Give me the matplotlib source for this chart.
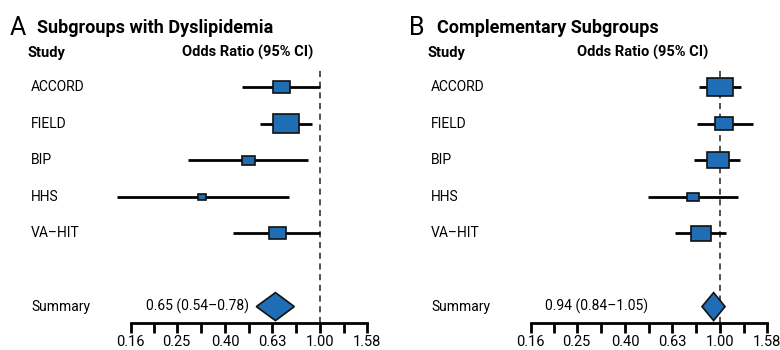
import matplotlib
matplotlib.use("Agg")
import matplotlib.pyplot as plt
import numpy as np
from matplotlib.patches import Rectangle, Polygon

plt.rcParams['font.family'] = ['Roboto', 'DejaVu Sans']

studies = ["ACCORD", "FIELD", "BIP", "HHS", "VA\u2013HIT"]

# panel A: subgroups with dyslipidemia
or_a = [0.69, 0.72, 0.50, 0.32, 0.66]
lo_a = [0.47, 0.56, 0.28, 0.14, 0.43]
hi_a = [1.00, 0.93, 0.89, 0.74, 1.00]
wt_a = [0.65, 1.00, 0.49, 0.32, 0.65]
sum_a = (0.65, 0.54, 0.78)

# panel B: complementary subgroups
or_b = [1.00, 1.04, 0.98, 0.77, 0.83]
lo_b = [0.82, 0.80, 0.78, 0.50, 0.65]
hi_b = [1.22, 1.37, 1.21, 1.19, 1.06]
wt_b = [1.00, 0.69, 0.84, 0.43, 0.77]
sum_b = (0.94, 0.84, 1.05)

tick_vals = [0.16, 0.25, 0.40, 0.63, 1.00, 1.58]

blue = "#1f6db5"
px_dec = 238.0   # pixels per decade
px_row = 36.6    # pixels per row


def forest(ax, letter, title, est, lo, hi, wt, summ, xlim, x_name, x_head, x_ci, x_sum):
    ax.set_xscale('log')
    ax.set_xlim(*xlim)
    ax.set_ylim(-2.186, 7.377)
    yt = ax.get_yaxis_transform()
    rows = np.arange(len(studies))[::-1] + 1

    ax.plot([1, 1], [-1.456, 5.46], ls=(0, (4, 3)), color='#222222', lw=1.1, zorder=1)

    for r, name, e, l, h, w in zip(rows, studies, est, lo, hi, wt):
        ax.plot([l, h], [r, r], color='black', lw=2, zorder=2, solid_capstyle='butt')
        bw = 26 * w
        bh = 0.72 * bw
        hw = bw / 2 / px_dec
        x0 = e * 10 ** (-hw)
        x1 = e * 10 ** hw
        ax.add_patch(Rectangle((x0, r - bh / 2 / px_row), x1 - x0, bh / px_row,
                               facecolor=blue, edgecolor='#111111', lw=1.2, zorder=3))
        ax.text(x_name, r, name, transform=yt, fontsize=10, va='center', ha='left')

    e, l, h = summ
    ys = -1
    dh = 14 / px_row
    ax.add_patch(Polygon([(l, ys), (e, ys + dh), (h, ys), (e, ys - dh)],
                         closed=True, facecolor=blue, edgecolor='#111111', lw=1.2, zorder=3))
    ax.text(x_name, ys, "Summary", transform=yt, fontsize=10, va='center', ha='left')
    ax.text(x_sum, ys, f"{e:.2f} ({l:.2f}\u2013{h:.2f})", transform=yt, fontsize=10,
            va='center', ha='right')

    ax.text(x_head, 5.93, "Study", transform=yt, fontsize=10.5,
            fontweight='bold', va='center', ha='left')
    ax.text(x_ci, 5.93, "Odds Ratio (95% CI)", transform=yt,
            fontsize=10.5, fontweight='bold', va='center', ha='center')
    ax.text(x_head - 0.047, 6.62, letter, transform=yt, fontsize=18,
            va='center', ha='left')
    ax.text(x_head + 0.024, 6.62, title, transform=yt, fontsize=13,
            fontweight='bold', va='center', ha='left')

    # axis
    for s in ['top', 'right', 'left']:
        ax.spines[s].set_visible(False)
    ax.spines['bottom'].set_position(('data', -1.456))
    ax.spines['bottom'].set_bounds(tick_vals[0], tick_vals[-1])
    ax.spines['bottom'].set_linewidth(2)
    ax.set_yticks([])
    ax.set_xticks(tick_vals)
    ax.set_xticklabels([f"{t:.2f}" for t in tick_vals], fontsize=10.5)
    minor = [np.sqrt(a * b) for a, b in zip(tick_vals[:-1], tick_vals[1:])]
    ax.set_xticks(minor, minor=True)
    ax.set_xticklabels([], minor=True)
    ax.tick_params(axis='x', which='both', length=7, width=2, direction='out', pad=1.5)


fig = plt.figure(figsize=(7.8, 3.5), dpi=100)
ax1 = fig.add_axes([0, 0, 0.5, 1])
ax2 = fig.add_axes([0.5, 0, 0.5, 1])

forest(ax1, "A", "Subgroups with Dyslipidemia", or_a, lo_a, hi_a, wt_a, sum_a,
       (10 ** (-320 / px_dec), 10 ** (70 / px_dec)), 31 / 390, 28 / 390, 248 / 390,
       249.5 / 390)
forest(ax2, "B", "Complementary Subgroups", or_b, lo_b, hi_b, wt_b, sum_b,
       (10 ** (-330 / px_dec), 10 ** (60 / px_dec)), 41 / 390, 37.7 / 390, 253 / 390,
       258.5 / 390)

fig.savefig("out.png", dpi=100)
